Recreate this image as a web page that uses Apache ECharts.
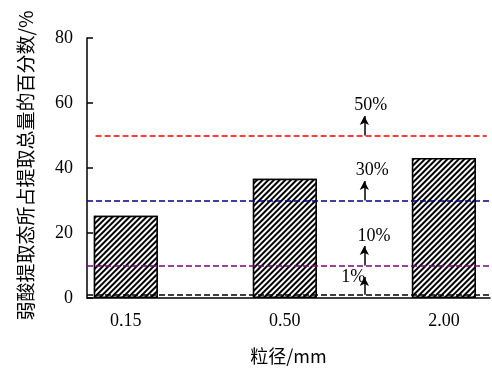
<!DOCTYPE html>
<html>
<head>
<meta charset="utf-8">
<script src="https://cdn.jsdelivr.net/npm/echarts@6/dist/echarts.min.js"></script>
<style>
  html, body { margin: 0; padding: 0; background: #fff; }
  #chart { width: 492px; height: 370px; }
</style>
</head>
<body>
<div id="chart"></div>
<script>
// Particle size classes and weak-acid extractable share (%)
const categories = ['0.15', '0.50', '2.00'];
const shares = [25.3, 36.7, 43.1];

// Reference thresholds with their colours and labels
const thresholds = [1, 10, 30, 50];
const thresholdColors = ['#000000', '#800080', '#00008b', '#ff0000'];
const thresholdLabels = ['1%', '10%', '30%', '50%'];
const arrowTips = [6.5, 16, 36, 56];
const labelY = [6.5, 19.0, 39.4, 59.4];
const labelX = [1.43, 1.56, 1.55, 1.54];
const arrowX = 1.5;

const serif = '"Liberation Serif", "Times New Roman", serif';

const chart = echarts.init(document.getElementById('chart'));

const thresholdLines = thresholds.map((t, i) => {
  if (t === 50) {
    return [
      { coord: [-0.19, t], lineStyle: { color: thresholdColors[i] } },
      { coord: [2.27, t] }
    ];
  }
  return { yAxis: t, lineStyle: { color: thresholdColors[i] } };
});

const arrows = thresholds.map((t, i) => [
  { coord: [arrowX, t] },
  { coord: [arrowX, arrowTips[i]] }
]);

const labelPoints = thresholdLabels.map((s, i) => ({
  coord: [labelX[i], labelY[i]],
  value: s
}));

chart.setOption({
  animation: false,
  backgroundColor: '#fff',
  grid: { left: 87, right: 2, top: 38, bottom: 67 },
  xAxis: {
    type: 'value',
    min: -0.244,
    max: 2.29,
    name: '粒径/mm',
    nameLocation: 'middle',
    nameGap: 49,
    nameTextStyle: { fontFamily: '"Noto Sans CJK SC", ' + serif, fontSize: 18, color: '#000' },
    axisLine: { show: true, onZero: false, lineStyle: { color: '#000', width: 1.5 } },
    axisTick: { show: true, inside: true, length: 3, customValues: [0, 1, 2], lineStyle: { color: '#000' } },
    axisLabel: {
      customValues: [0, 1, 2],
      formatter: v => categories[Math.round(v)],
      fontFamily: serif, fontSize: 18, color: '#000', margin: 14
    },
    splitLine: { show: false }
  },
  yAxis: {
    type: 'value',
    min: 0,
    max: 80,
    interval: 20,
    name: '弱酸提取态所占提取总量的百分数/%',
    nameLocation: 'middle',
    nameGap: 52,
    nameTextStyle: {
      fontFamily: '"Noto Sans CJK SC", ' + serif, fontSize: 19, color: '#000',
      padding: [0, 0, 0, 5]
    },
    axisLine: { show: true, onZero: false, lineStyle: { color: '#000', width: 1.5 } },
    axisTick: { show: true, inside: true, length: 6, lineStyle: { color: '#000', width: 1.5 } },
    axisLabel: { fontFamily: serif, fontSize: 18, color: '#000', margin: 14 },
    splitLine: { show: false }
  },
  series: [
    {
      type: 'bar',
      barWidth: 64,
      data: shares.map((v, i) => [i, v]),
      itemStyle: {
        color: '#fff',
        borderColor: '#000',
        borderWidth: 1.5,
        decal: {
          symbol: 'rect',
          color: '#000',
          backgroundColor: '#fff',
          dashArrayX: [1, 0],
          dashArrayY: [1.7, 1.2],
          rotation: -Math.PI / 4
        }
      },
      markLine: {
        silent: true,
        symbol: ['none', 'none'],
        label: { show: false },
        lineStyle: { type: [6, 3], width: 1.5 },
        data: thresholdLines
      },
      z: 2
    },
    {
      type: 'line',
      data: [],
      markLine: {
        silent: true,
        symbol: ['none', 'arrow'],
        symbolSize: [7, 9],
        label: { show: false },
        lineStyle: { type: 'solid', color: '#000', width: 1.5 },
        data: arrows
      },
      markPoint: {
        silent: true,
        symbol: 'circle',
        symbolSize: 0,
        itemStyle: { color: 'transparent' },
        label: {
          show: true,
          position: 'inside',
          formatter: p => p.value,
          fontFamily: serif,
          fontSize: 18,
          color: '#000',
          textBorderWidth: 0
        },
        data: labelPoints
      },
      z: 5
    }
  ]
});
</script>
</body>
</html>
